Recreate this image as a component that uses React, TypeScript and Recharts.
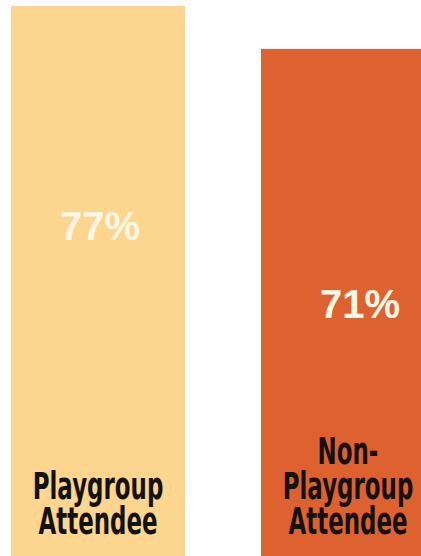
import { BarChart, Bar, XAxis, YAxis } from 'recharts';

const categories = ['Playgroup\nAttendee', 'Non-\nPlaygroup\nAttendee'];
const shares = [77, 71];
const colors = ['#FCD58F', '#DE6130'];

// percent label placement relative to bar top / centre (layout only)
const pctOffset = [234, 269];
const pctDx = [2, 12];

const data = categories.map((c, i) => ({ name: c, value: shares[i] }));

function BarShape(props: any) {
  const { x, y, width, height, index } = props;
  const cx = x + width / 2;
  const lines = String(categories[index]).split('\n');
  const bottom = y + height;
  const firstBase = bottom - 22 - (lines.length - 1) * 35;
  return (
    <g>
      <rect x={x} y={y} width={width} height={height} fill={colors[index]} />
      <text
        x={cx + pctDx[index]}
        y={y + pctOffset[index]}
        textAnchor="middle"
        fill="#FFF7E4"
        fontFamily="'Liberation Sans', Arial, sans-serif"
        fontWeight="bold"
        fontSize={40}
      >
        {shares[index]}%
      </text>
      <text
        transform={`translate(${cx}, ${firstBase}) scale(0.62, 1)`}
        x={0}
        y={0}
        textAnchor="middle"
        fill="#141210"
        fontFamily="'DejaVu Sans', sans-serif"
        fontWeight="bold"
        fontSize={37}
      >
        {lines.map((ln, i) => (
          <tspan key={i} x={0} dy={i === 0 ? 0 : 35}>
            {ln}
          </tspan>
        ))}
      </text>
    </g>
  );
}

export default function App() {
  return (
    <div
      style={{
        position: 'absolute',
        top: 0,
        left: 0,
        width: 421,
        height: 556,
        overflow: 'hidden',
        background: '#fff',
      }}
    >
      <div style={{ marginLeft: -27 }}>
        <BarChart width={500} height={556} data={data} margin={{ top: 0, right: 0, left: 0, bottom: 0 }}>
          <XAxis dataKey="name" hide />
          <YAxis hide domain={[0, (556 * 77) / 550]} allowDataOverflow />
          <Bar dataKey="value" barSize={174} shape={BarShape} isAnimationActive={false} />
        </BarChart>
      </div>
    </div>
  );
}
